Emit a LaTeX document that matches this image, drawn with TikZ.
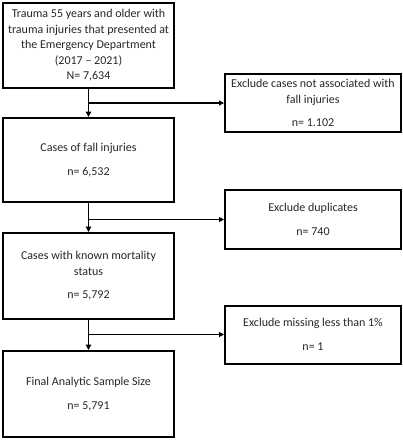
\documentclass[tikz,border=0pt]{standalone}
\usepackage{fontspec}
\setmainfont{Carlito}
\usetikzlibrary{arrows.meta}

\begin{document}
\begin{tikzpicture}
     [
     x=1pt, y=-1pt,
     every node/.style={font=\fontsize{12}{15.5}\selectfont, align=center, text=black!85},
     stagebox/.style={draw, line width=2pt, minimum width=171pt, inner sep=0pt},
     dropbox/.style={draw, line width=2pt, minimum width=176pt, inner sep=0pt},
     flow/.style={line width=1.6pt, -{Triangle[length=5.5pt,width=5.5pt]}},
     branch/.style={line width=1.1pt, -{Triangle[length=5pt,width=5pt]}}
     ]
     \useasboundingbox (0,0) rectangle (403,440);
     \node[stagebox, minimum height=85pt] (total) at (88.5,45.5) {Trauma 55 years and older with\\trauma injuries that presented at\\the Emergency Department\\(2017 -- 2021)\\N= 7,634};
     \node[stagebox, minimum height=84pt] (falls) at (88.5,160) {Cases of fall injuries\\[8pt]n= 6,532};
     \node[stagebox, minimum height=86pt] (known) at (88.5,276) {Cases with known mortality\\status\\[8pt]n= 5,792};
     \node[stagebox, minimum height=86pt] (final) at (88.5,394) {Final Analytic Sample Size\\[8pt]n= 5,791};
     \node[dropbox, minimum height=58pt] (nofall) at (313,103) {Exclude cases not associated with\\fall injuries\\[8pt]n= 1.102};
     \node[dropbox, minimum height=59pt] (dupes) at (313,219.5) {Exclude duplicates\\[8pt]n= 740};
     \node[dropbox, minimum height=58pt] (missing) at (313,334.5) {Exclude missing less than 1\%\\[8pt]n= 1};
     \draw[flow] (total) -- (falls);
     \draw[flow] (falls) -- (known);
     \draw[flow] (known) -- (final);
     \draw[branch] (total.south |- nofall.west) -- (nofall.west);
     \draw[branch] (falls.south |- dupes.west) -- (dupes.west);
     \draw[branch] (known.south |- missing.west) -- (missing.west);
\end{tikzpicture}
\end{document}
